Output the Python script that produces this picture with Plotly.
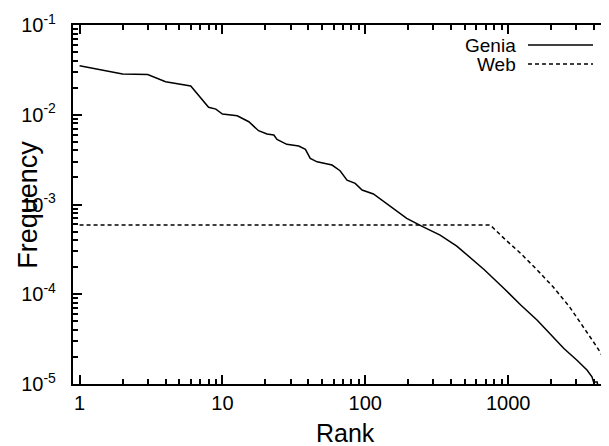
import plotly.graph_objects as go

# Genia rank-frequency
genia_rank = [1, 2, 3, 4, 6, 8, 9, 10, 12.7, 14.1, 15.3, 17.9, 20.5, 22.9, 24.1, 28.2, 34.2, 38.1,
              41.2, 46, 58.5, 66.6, 74.5, 85, 95, 114, 150, 195, 248, 334, 437, 570, 678, 936,
              1225, 1599, 1982, 2456, 3033, 3563, 3862, 3963, 4200, 4250]
genia_freq = [0.0352, 0.0285, 0.0280, 0.0233, 0.0209, 0.0121, 0.01156, 0.0102, 0.00975, 0.0089,
              0.00836, 0.00664, 0.0061, 0.00594, 0.00532, 0.00468, 0.00448, 0.00411, 0.00327,
              0.00299, 0.00275, 0.00238, 0.00187, 0.00172, 0.00145, 0.00131, 0.00096, 0.0007,
              0.000574, 0.000456, 0.000344, 0.00024, 0.000189, 0.000116, 0.0000759, 0.0000514,
              0.0000359, 0.0000249, 0.0000184, 0.0000143, 0.0000120, 0.0000105, 0.0000105, 0.0000095]

# Web rank-frequency
web_rank = [1, 750, 936, 1225, 1599, 2062, 2690, 3368, 4180, 5085]
web_freq = [0.00059, 0.00059, 0.000419, 0.000285, 0.000186, 0.000121, 0.0000724, 0.0000434,
            0.0000259, 0.0000155]

x_tickvals = [1, 10, 100, 1000]
x_ticktext = ["1", "10", "100", "1000"]
y_tickvals = [1e-5, 1e-4, 1e-3, 1e-2, 1e-1]
y_ticktext = ["10<sup>-5</sup>&nbsp;&nbsp;", "10<sup>-4</sup>&nbsp;&nbsp;", "10<sup>-3</sup>&nbsp;&nbsp;",
              "10<sup>-2</sup>&nbsp;&nbsp;", "10<sup>-1</sup>&nbsp;&nbsp;"]

x_minor = [m * d for d in (1, 10, 100, 1000) for m in range(2, 10)]
y_minor = [m * d for d in (1e-5, 1e-4, 1e-3, 1e-2) for m in range(2, 10)]

font = "Liberation Sans, Arial, Helvetica, sans-serif"

fig = go.Figure()
fig.add_trace(go.Scatter(x=genia_rank, y=genia_freq, mode="lines", name="Genia",
                         line=dict(color="black", width=1.5)))
fig.add_trace(go.Scatter(x=web_rank, y=web_freq, mode="lines", name="Web",
                         line=dict(color="black", width=1.5, dash="4px,3px")))

# page body adds an 8px offset; plot area should span x 73..609, y 25..384 in the window
fig.update_layout(
    width=601, height=438,
    margin=dict(l=65, r=0, t=17, b=62),
    paper_bgcolor="white", plot_bgcolor="white",
    showlegend=False,
    font=dict(family=font, color="black", size=18),
)
fig.update_xaxes(
    type="log", range=[-0.046, 3.706],
    tickmode="array", tickvals=x_tickvals, ticktext=x_ticktext,
    ticks="inside", ticklen=9, tickwidth=1.5, tickcolor="black",
    showline=True, linecolor="black", linewidth=2, mirror="allticks",
    showgrid=False, zeroline=False,
    minor=dict(tickmode="array", tickvals=x_minor, ticks="inside", ticklen=5,
               tickwidth=1.5, tickcolor="black", showgrid=False),
    tickfont=dict(size=20),
)
fig.update_yaxes(
    type="log", range=[-5, -1],
    tickmode="array", tickvals=y_tickvals, ticktext=y_ticktext,
    ticks="inside", ticklen=9, tickwidth=1.5, tickcolor="black",
    showline=True, linecolor="black", linewidth=2, mirror=False,
    showgrid=False, zeroline=False,
    minor=dict(tickmode="array", tickvals=y_minor, ticks="inside", ticklen=5,
               tickwidth=1.5, tickcolor="black", showgrid=False),
    tickfont=dict(size=20),
)

# axis titles
fig.add_annotation(text="Rank", xref="paper", yref="paper", x=0.509, y=-0.136,
                   showarrow=False, font=dict(size=25), xanchor="center", yanchor="middle")
fig.add_annotation(text="Frequency", xref="paper", yref="paper", x=-0.084, y=0.499,
                   showarrow=False, font=dict(size=27), textangle=-90,
                   xanchor="center", yanchor="middle")

# legend (text left of line sample)
legend_items = [("Genia", "solid", 45), ("Web", "dash", 64)]
for name, dash, ypx in legend_items:
    yp = (384 - ypx) / 359
    fig.add_annotation(text=name, xref="paper", yref="paper", x=(518 - 73) / 536, y=yp,
                       showarrow=False, font=dict(size=19), xanchor="right", yanchor="middle")
    fig.add_shape(type="line", xref="paper", yref="paper",
                  x0=(528 - 73) / 536, x1=(593 - 73) / 536, y0=yp, y1=yp,
                  line=dict(color="black", width=1.5, dash="4px,3px" if dash == "dash" else "solid"))

fig.write_html("out.html")
